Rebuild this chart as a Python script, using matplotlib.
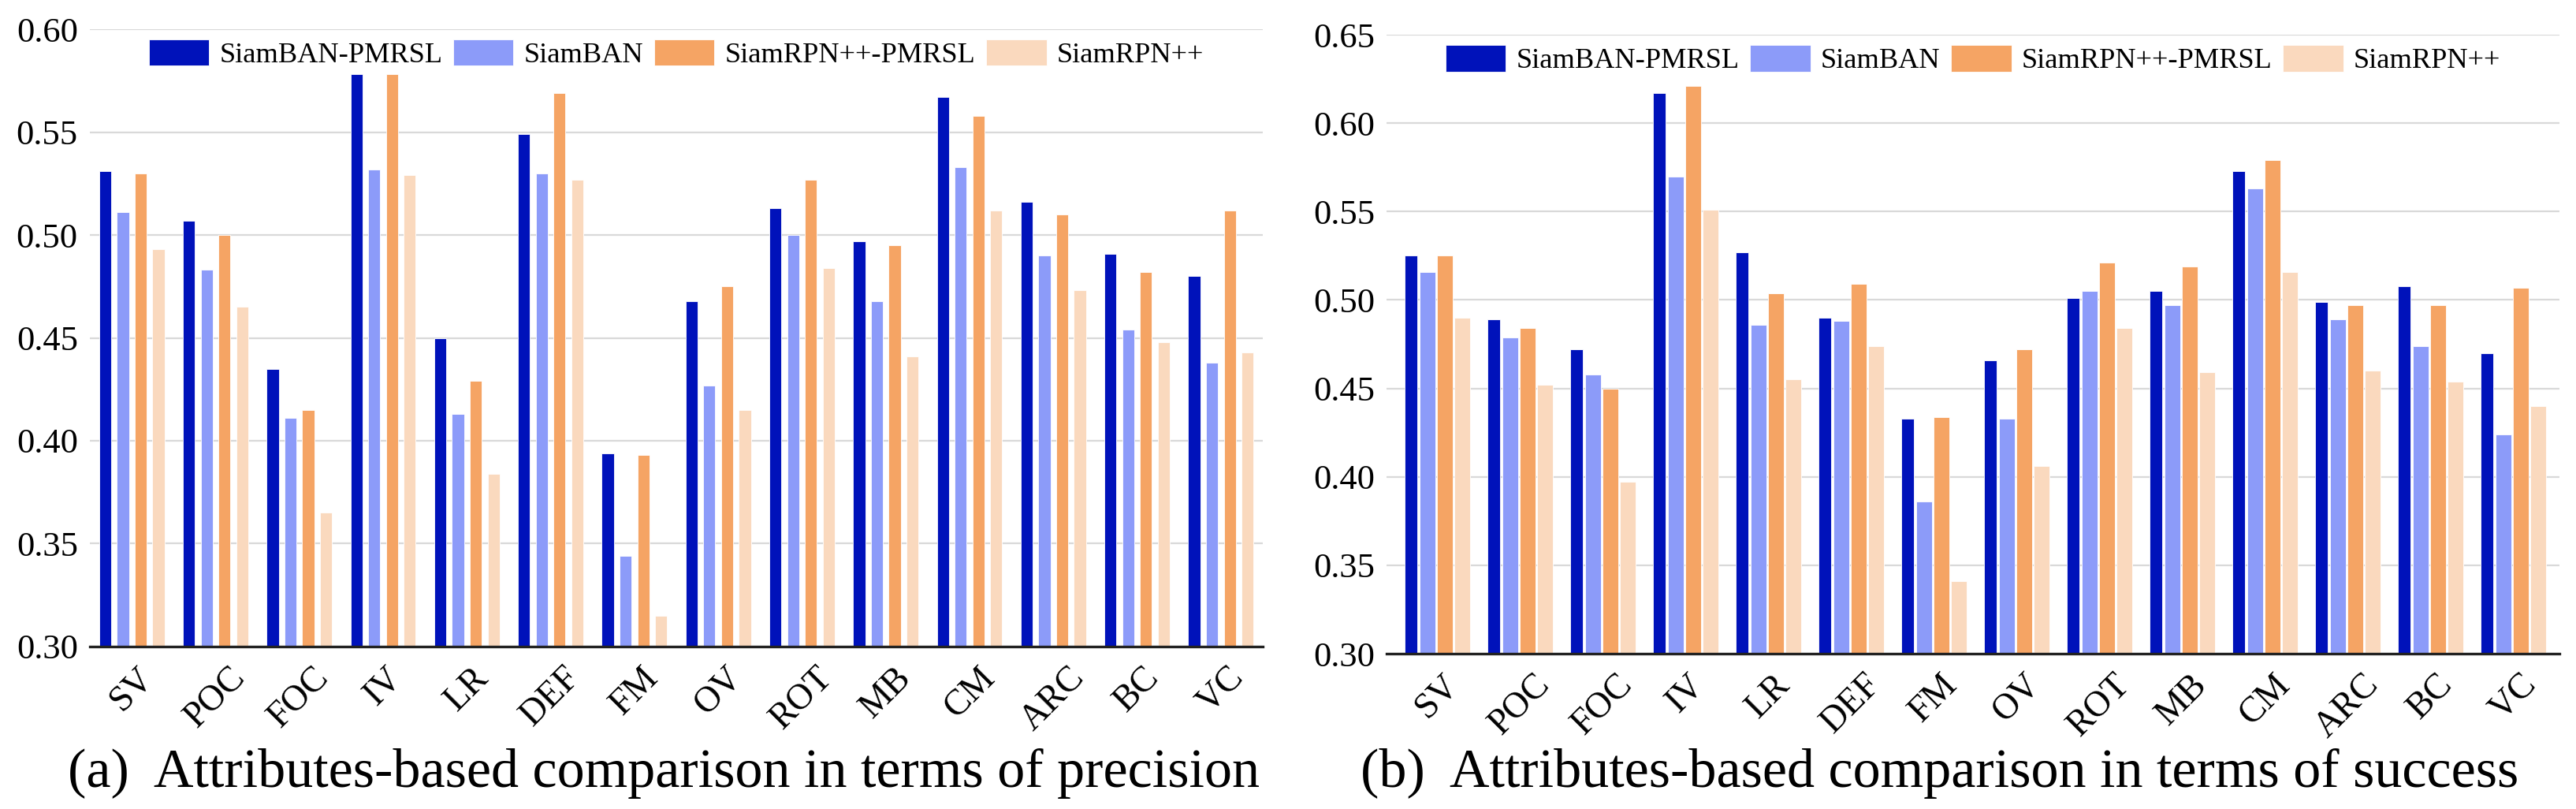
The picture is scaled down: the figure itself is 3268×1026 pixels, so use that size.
import numpy as np
import matplotlib
matplotlib.use("Agg")
import matplotlib.pyplot as plt

plt.rcParams['font.family'] = ['Liberation Serif', 'DejaVu Serif']

# attributes
cats = ['SV', 'POC', 'FOC', 'IV', 'LR', 'DEF', 'FM', 'OV', 'ROT', 'MB', 'CM', 'ARC', 'BC', 'VC']
methods = ['SiamBAN-PMRSL', 'SiamBAN', 'SiamRPN++-PMRSL', 'SiamRPN++']
colors = ['#0012BA', '#8C9BF9', '#F5A464', '#FAD9BE']

# (a) precision
ban_pmrsl_p = [0.531, 0.507, 0.435, 0.578, 0.450, 0.549, 0.394, 0.468, 0.513, 0.497, 0.567, 0.516, 0.491, 0.480]
ban_p = [0.511, 0.483, 0.411, 0.532, 0.413, 0.530, 0.344, 0.427, 0.500, 0.468, 0.533, 0.490, 0.454, 0.438]
rpn_pmrsl_p = [0.530, 0.500, 0.415, 0.578, 0.429, 0.569, 0.393, 0.475, 0.527, 0.495, 0.558, 0.510, 0.482, 0.512]
rpn_p = [0.493, 0.465, 0.365, 0.529, 0.384, 0.527, 0.315, 0.415, 0.484, 0.441, 0.512, 0.473, 0.448, 0.443]

# (b) success
ban_pmrsl_s = [0.525, 0.489, 0.472, 0.617, 0.527, 0.490, 0.433, 0.466, 0.501, 0.505, 0.573, 0.499, 0.508, 0.470]
ban_s = [0.516, 0.479, 0.458, 0.570, 0.486, 0.488, 0.386, 0.433, 0.505, 0.497, 0.563, 0.489, 0.474, 0.424]
rpn_pmrsl_s = [0.525, 0.484, 0.450, 0.621, 0.504, 0.509, 0.434, 0.472, 0.521, 0.519, 0.579, 0.497, 0.497, 0.507]
rpn_s = [0.490, 0.452, 0.397, 0.551, 0.455, 0.474, 0.341, 0.406, 0.484, 0.459, 0.516, 0.460, 0.454, 0.440]

fig = plt.figure(figsize=(32.68, 10.26), dpi=100)
ax1 = fig.add_axes([0.0349, 0.2008, 0.4553, 0.7631])
ax2 = fig.add_axes([0.5383, 0.1920, 0.4553, 0.7650])

x = np.arange(len(cats))


def draw(ax, series, ymax, offsets, widths, xlim):
    for k, vals in enumerate(series):
        ax.bar(x + offsets[k], np.array(vals) - 0.30, bottom=0.30, width=widths[k],
               color=colors[k], label=methods[k], edgecolor='white', linewidth=0.6, zorder=3)
    ax.set_ylim(0.30, ymax)
    ax.set_xlim(*xlim)
    ticks = np.arange(0.30, ymax + 0.001, 0.05)
    ax.set_yticks(ticks)
    ax.set_yticklabels(['%.2f' % v for v in ticks], fontsize=32)
    ax.set_xticks(x)
    ax.set_xticklabels(cats, rotation=45, ha='center', va='top', fontsize=33)
    ax.tick_params(axis='y', length=0, pad=11)
    ax.tick_params(axis='x', length=0, pad=13)
    ax.grid(axis='y', color='#d9d9d9', linewidth=1.6, zorder=0)
    ax.set_axisbelow(True)
    for s in ['top', 'left', 'right']:
        ax.spines[s].set_visible(False)
    ax.spines['bottom'].set_color('#222222')
    ax.spines['bottom'].set_linewidth(2.4)
    ax.spines['bottom'].set_zorder(4)
    ax.legend(loc='center', bbox_to_anchor=(0.5, 0.96), ncol=4, frameon=False,
              fontsize=26.2, handlelength=2.1, handleheight=1.05,
              handletextpad=0.37, columnspacing=0.37, borderaxespad=0)


draw(ax1, [ban_pmrsl_p, ban_p, rpn_pmrsl_p, rpn_p], 0.60,
     [-0.318, -0.106, 0.106, 0.318], [0.143, 0.143, 0.143, 0.143], (-0.5, 13.5))
draw(ax2, [ban_pmrsl_s, ban_s, rpn_pmrsl_s, rpn_s], 0.65,
     [-0.319, -0.120, 0.089, 0.300], [0.15, 0.19, 0.19, 0.19], (-0.61, 13.56))

fig.text(0.0263, 0.0273, '(a)  Attributes-based comparison in terms of precision',
         fontsize=50.5, ha='left', va='baseline')
fig.text(0.528, 0.0273, '(b)  Attributes-based comparison in terms of success',
         fontsize=50.5, ha='left', va='baseline')

fig.savefig('out.png', dpi=100)
plt.close(fig)
